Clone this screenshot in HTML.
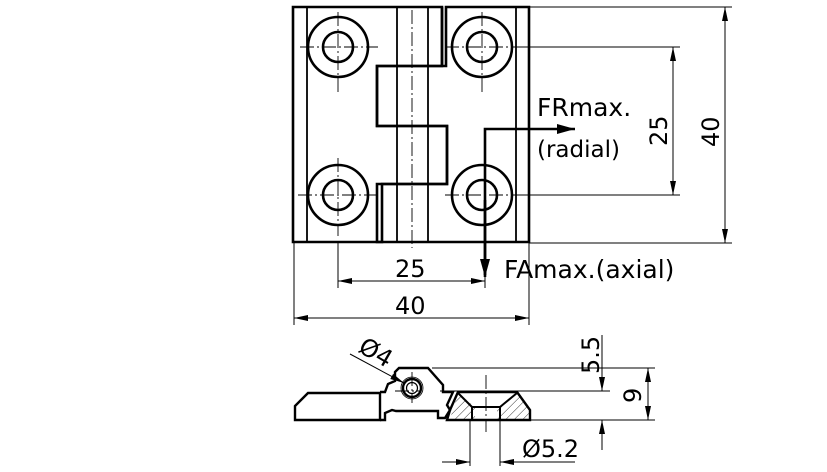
<!DOCTYPE html>
<html><head><meta charset="utf-8"><style>
html,body{margin:0;padding:0;background:#fff;}
svg{display:block;}
text{font-family:"DejaVu Sans","Liberation Sans",sans-serif;fill:#000;}
</style></head><body>
<svg width="827" height="472" viewBox="0 0 827 472" xmlns="http://www.w3.org/2000/svg">
<defs>
<marker id="a" markerWidth="14" markerHeight="8" refX="14" refY="4" orient="auto" markerUnits="userSpaceOnUse"><path d="M0,1 L14,4 L0,7 Z" fill="#000"/></marker>
<marker id="b" markerWidth="18" markerHeight="12" refX="18" refY="6" orient="auto" markerUnits="userSpaceOnUse"><path d="M0,1 L18,6 L0,11 Z" fill="#000"/></marker>
<pattern id="h" width="6" height="6" patternUnits="userSpaceOnUse" patternTransform="rotate(45)"><line x1="0" y1="0" x2="0" y2="6" stroke="#000" stroke-width="0.8"/></pattern>
</defs>
<g fill="none" stroke="#000">
<g stroke-width="2.6">
<path d="M293,7 H442 V66 H377 V126 H447 V184 H382 V242 H293 Z"/>
<path d="M446,7 H529 V242 H377 V184 H447 V126 H377 V66 H446 Z"/>
<line x1="442" y1="7" x2="442" y2="66"/>
<circle cx="338" cy="47" r="30"/><circle cx="338" cy="47" r="15"/>
<circle cx="482" cy="47" r="30"/><circle cx="482" cy="47" r="15"/>
<circle cx="338" cy="195" r="30"/><circle cx="338" cy="195" r="15"/>
<circle cx="482" cy="195" r="30"/><circle cx="482" cy="195" r="15"/>
</g>
<g stroke-width="1.8">
<line x1="307" y1="7" x2="307" y2="242"/>
<line x1="397" y1="7" x2="397" y2="242"/>
<line x1="428" y1="7" x2="428" y2="242"/>
<line x1="516" y1="7" x2="516" y2="242"/>
</g>
<g stroke-width="0.9" stroke-dasharray="14,3,2,3">
<line x1="300" y1="47" x2="378" y2="47"/><line x1="338" y1="12" x2="338" y2="92"/>
<line x1="298" y1="195" x2="378" y2="195"/><line x1="338" y1="158" x2="338" y2="236"/>
<line x1="445" y1="47" x2="520" y2="47"/><line x1="482" y1="12" x2="482" y2="92"/>
<line x1="445" y1="195" x2="520" y2="195"/>
<line x1="412" y1="10" x2="412" y2="248"/>
</g>
<g stroke-width="1">
<line x1="529" y1="7" x2="732" y2="7"/>
<line x1="529" y1="243" x2="732" y2="243"/>
<line x1="520" y1="47" x2="680" y2="47"/>
<line x1="520" y1="195" x2="680" y2="195"/>
<line x1="673" y1="70" x2="673" y2="47" marker-end="url(#a)"/>
<line x1="673" y1="150" x2="673" y2="195" marker-end="url(#a)"/>
<line x1="673" y1="70" x2="673" y2="150"/>
<line x1="725" y1="120" x2="725" y2="7" marker-end="url(#a)"/>
<line x1="725" y1="120" x2="725" y2="243" marker-end="url(#a)"/>
<line x1="294" y1="243" x2="294" y2="325"/>
<line x1="529" y1="243" x2="529" y2="325"/>
<line x1="338" y1="243" x2="338" y2="288"/>
<line x1="485" y1="270" x2="485" y2="288"/>
<line x1="410" y1="281" x2="338" y2="281" marker-end="url(#a)"/>
<line x1="410" y1="281" x2="485" y2="281" marker-end="url(#a)"/>
<line x1="410" y1="318" x2="294" y2="318" marker-end="url(#a)"/>
<line x1="410" y1="318" x2="529" y2="318" marker-end="url(#a)"/>
</g>
<g stroke-width="2.6">
<path d="M485,275 V129 H575" marker-end="url(#b)"/>
<line x1="485" y1="200" x2="485" y2="277" marker-end="url(#b)"/>
</g>
<g stroke-width="2.4">
<path d="M295,420 V406 L308,393 H380 V420 Z"/>
<path d="M380,420 H385 V413 L392,410 L396,411 H438 V418 H445 L450,410 L447,405 L453,392 L443,392 L443,385 L428,368 H399 L395,372 V381 L388,384 L385,392 H380"/>
<path d="M447,420 L450,410 L458,392 H517 L530,410 V420 Z"/>
<circle cx="412" cy="388" r="9"/>
</g>
<path d="M450,419 L458,393 L475,407 V419 Z" fill="url(#h)" stroke="none"/>
<path d="M497,407 L517,393 L529,410 V419 H497 Z" fill="url(#h)" stroke="none"/>
<g stroke-width="2">
<line x1="472" y1="407" x2="500" y2="407"/>
<line x1="472" y1="407" x2="472" y2="420"/>
<line x1="500" y1="407" x2="500" y2="420"/>
<line x1="458" y1="393" x2="472" y2="407"/>
<line x1="517" y1="393" x2="500" y2="407"/>
</g>
<circle cx="412" cy="388" r="5.5" stroke-width="1.2"/>
<circle cx="412" cy="388" r="11" stroke-width="0.8"/>
<g stroke-width="0.9" stroke-dasharray="14,3,2,3">
<line x1="395" y1="391" x2="420" y2="391"/>
<line x1="412" y1="372" x2="412" y2="403"/>
<line x1="486" y1="375" x2="486" y2="432"/>
</g>
<g stroke-width="1">
<line x1="432" y1="368" x2="655" y2="368"/>
<line x1="440" y1="391" x2="610" y2="391"/>
<line x1="530" y1="420" x2="655" y2="420"/>
<line x1="602" y1="335" x2="602" y2="391" marker-end="url(#a)"/>
<line x1="602" y1="450" x2="602" y2="420" marker-end="url(#a)"/>
<line x1="648" y1="395" x2="648" y2="368" marker-end="url(#a)"/>
<line x1="648" y1="395" x2="648" y2="420" marker-end="url(#a)"/>
<line x1="470" y1="420" x2="470" y2="466"/>
<line x1="500" y1="420" x2="500" y2="466"/>
<line x1="442" y1="462" x2="470" y2="462" marker-end="url(#a)"/>
<line x1="575" y1="462" x2="500" y2="462" marker-end="url(#a)"/>
<line x1="350" y1="354" x2="404" y2="383" marker-end="url(#a)"/>
</g>
</g>
<g font-size="24">
<text x="537" y="116" font-size="25">FRmax.</text>
<text x="537" y="157" font-size="23">(radial)</text>
<text x="504" y="278" font-size="25">FAmax.(axial)</text>
<text x="395" y="277">25</text>
<text x="395" y="314">40</text>
<text transform="translate(667,146) rotate(-90)">25</text>
<text transform="translate(719,147) rotate(-90)">40</text>
<text x="522" y="457">Ø5.2</text>
<text transform="translate(357,351) rotate(30)">Ø4</text>
<text transform="translate(599,374) rotate(-90)">5.5</text>
<text transform="translate(641,403) rotate(-90)">9</text>
</g>
</svg>
</body></html>
